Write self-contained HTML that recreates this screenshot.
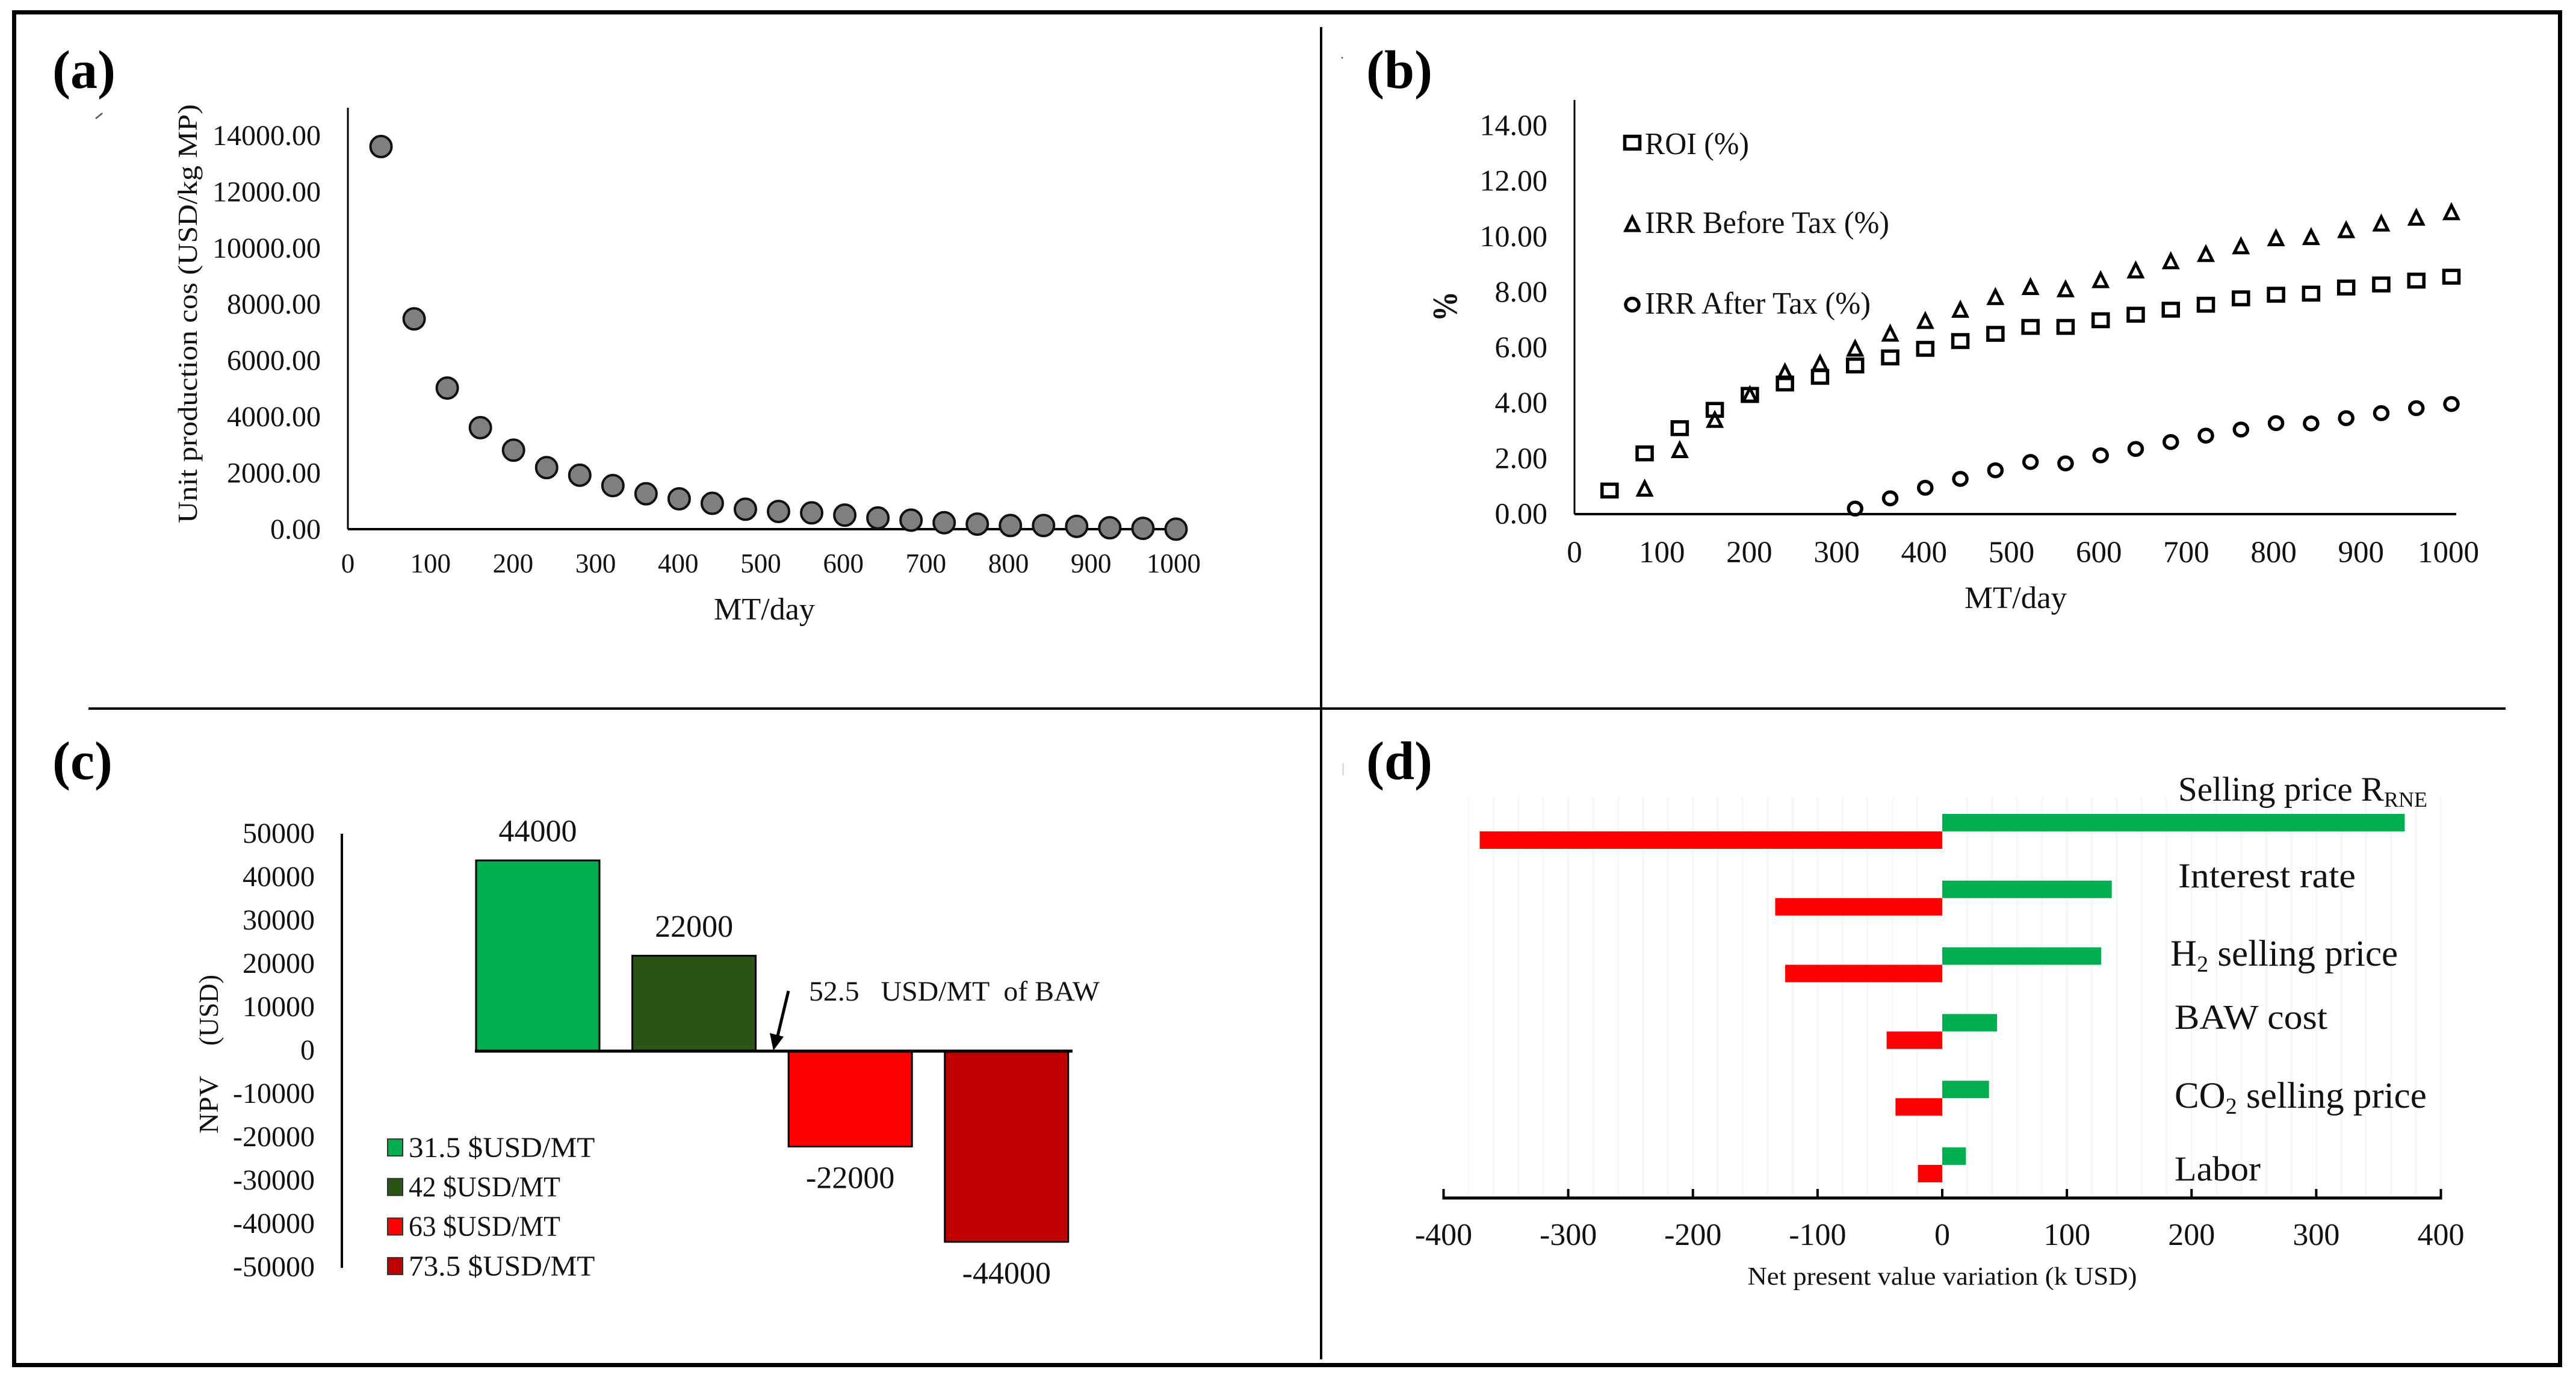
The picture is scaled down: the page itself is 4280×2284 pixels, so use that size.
<!DOCTYPE html>
<html lang="en">
<head>
<meta charset="utf-8">
<title>Techno-economic analysis panels</title>
<style>
html,body{margin:0;padding:0;background:#fff;}
svg{display:block;}
text{font-family:"Liberation Serif","Times New Roman",serif;fill:#111;}
</style>
</head>
<body>
<svg id="figure" xmlns="http://www.w3.org/2000/svg" width="4280" height="2284" viewBox="0 0 4280 2284">
  <rect x="0" y="0" width="4280" height="2284" fill="#ffffff"/>
  <rect x="23.5" y="20.5" width="4230" height="2247" fill="none" stroke="#000" stroke-width="7"/>
  <line x1="2195" y1="45" x2="2195" y2="2258" stroke="#000" stroke-width="4"/>
  <line x1="147" y1="1177" x2="4163" y2="1177" stroke="#000" stroke-width="4"/>

  <text x="87" y="146" font-size="90" font-weight="bold" style="fill:#000">(a)</text>
  <text x="2270" y="146" font-size="90" font-weight="bold" style="fill:#000">(b)</text>
  <text x="87" y="1294" font-size="90" font-weight="bold" style="fill:#000">(c)</text>
  <text x="2270" y="1294" font-size="90" font-weight="bold" style="fill:#000">(d)</text>
  <line x1="159" y1="197" x2="170" y2="188" stroke="#555" stroke-width="2.5"/>

  <g id="panel-a"></g>
  <g id="panel-b"></g>
  <g id="panel-c"></g>
  <g id="panel-d"></g>

  <text transform="translate(327 521) rotate(-90)" text-anchor="middle" font-size="46" textLength="696" lengthAdjust="spacingAndGlyphs">Unit production cos (USD/kg MP)</text>
  <text x="1270" y="1029" text-anchor="middle" font-size="52" textLength="168" lengthAdjust="spacingAndGlyphs">MT/day</text>

  <text transform="translate(2420 509) rotate(-90)" text-anchor="middle" font-size="58" font-weight="bold" textLength="50" lengthAdjust="spacingAndGlyphs">%</text>
  <text x="3349" y="1010" text-anchor="middle" font-size="52" textLength="170" lengthAdjust="spacingAndGlyphs">MT/day</text>

  <text transform="translate(362 1835) rotate(-90)" text-anchor="middle" font-size="46" textLength="96" lengthAdjust="spacingAndGlyphs">NPV</text>
  <text transform="translate(362 1678) rotate(-90)" text-anchor="middle" font-size="46" textLength="118" lengthAdjust="spacingAndGlyphs">(USD)</text>
  <text x="1344" y="1662" font-size="47" textLength="483" lengthAdjust="spacingAndGlyphs" xml:space="preserve">52.5   USD/MT  of BAW</text>
  <g>
    <line x1="1310" y1="1646" x2="1291" y2="1725" stroke="#000" stroke-width="5"/>
    <polygon points="1285,1745 1279,1716 1302,1722" fill="#000"/>
  </g>

  <text x="3227" y="2134" text-anchor="middle" font-size="42" textLength="647" lengthAdjust="spacingAndGlyphs">Net present value variation (k USD)</text>
  <text x="3619" y="1330" font-size="57">Selling price R<tspan font-size="36" dy="10">RNE</tspan></text>
  <text x="3619" y="1474" font-size="58" textLength="295" lengthAdjust="spacingAndGlyphs">Interest rate</text>
  <text x="3606" y="1604" font-size="61">H<tspan font-size="38" dy="10">2</tspan><tspan dy="-10"> selling price</tspan></text>
  <text x="3613" y="1709" font-size="58" textLength="254" lengthAdjust="spacingAndGlyphs">BAW cost</text>
  <text x="3613" y="1840" font-size="61">CO<tspan font-size="38" dy="10">2</tspan><tspan dy="-10"> selling price</tspan></text>
  <text x="3613" y="1961" font-size="58" textLength="143" lengthAdjust="spacingAndGlyphs">Labor</text>
</svg>

<script>
// Shared data
const capacity = [40,80,120,160,200,240,280,320,360,400,440,480,520,560,600,640,680,720,760,800,840,880,920,960,1000];
const xTicks = [0,100,200,300,400,500,600,700,800,900,1000];

// Panel (a)
const unitCost = [13610,7480,5020,3610,2810,2190,1920,1550,1260,1080,920,710,630,580,500,400,320,230,180,130,130,100,50,30,0];
const costTicks = [0,2000,4000,6000,8000,10000,12000,14000];

// Panel (b)
const roiValues = [0.85,2.19,3.10,3.76,4.30,4.71,4.95,5.36,5.65,5.96,6.24,6.50,6.75,6.75,6.99,7.19,7.37,7.55,7.78,7.91,7.95,8.17,8.28,8.42,8.56];
const irrBeforeCapacity = [80,120,160,200,240,280,320,360,400,440,480,520,560,600,640,680,720,760,800,840,880,920,960,1000];
const irrBeforeValues = [0.90,2.29,3.38,4.28,5.10,5.42,5.95,6.49,6.95,7.35,7.81,8.17,8.09,8.42,8.77,9.10,9.36,9.64,9.93,9.97,10.22,10.46,10.67,10.87];
const irrAfterCapacity = [320,360,400,440,480,520,560,600,640,680,720,760,800,840,880,920,960,1000];
const irrAfterValues = [0.20,0.57,0.95,1.27,1.58,1.88,1.83,2.12,2.35,2.60,2.83,3.05,3.28,3.27,3.46,3.64,3.82,3.97];
const percentTicks = [0,2,4,6,8,10,12,14];

// Panel (c)
const npvValues = [44000,22000,-22000,-44000];
const npvLabels = ['31.5 $USD/MT','42 $USD/MT','63 $USD/MT','73.5 $USD/MT'];
const npvColors = ['#00b050','#2a5516','#ff0000','#c00000'];
const npvTicks = [50000,40000,30000,20000,10000,0,-10000,-20000,-30000,-40000,-50000];

// Panel (d)
const driverUpside = [371,136,127.5,44,37.5,19];
const driverDownside = [-371,-134,-126,-44.6,-37.5,-19.5];
const driverTicks = [-400,-300,-200,-100,0,100,200,300,400];
const driverGrid = [-380,-360,-340,-320,-300,-280,-260,-240,-220,-200,-180,-160,-140,-120,-100,-80,-60,-40,-20,20,40,60,80,100,120,140,160,180,200,220,240,260,280,300,320,340,360,380,400];

const NS = 'http://www.w3.org/2000/svg';
function make(parent, tag, props, name) {
  const el = document.createElementNS(NS, tag);
  for (const k in props) el.setAttribute(k, props[k]);
  
  
  parent.appendChild(el);
  return el;
}
function label(parent, str, x, y, size, anchor, name, width) {
  const props = {x: x, y: y + size * 0.33, 'font-size': size, 'text-anchor': anchor};
  if (width) { props.textLength = width; props.lengthAdjust = 'spacingAndGlyphs'; }
  const el = make(parent, 'text', props, name);
  el.textContent = str;
  return el;
}

// ---------- Panel (a) ----------
const xA = v => 578 + v * 1.376;
const yA = v => 879 - v * 0.0467;
const pa = document.getElementById('panel-a');
make(pa, 'line', {x1: xA(0), y1: 179, x2: xA(0), y2: yA(0), stroke: '#000', 'stroke-width': 3}, 'a-y-axis');
make(pa, 'line', {x1: xA(0), y1: yA(0), x2: xA(1000) + 8, y2: yA(0), stroke: '#000', 'stroke-width': 4}, 'a-x-axis');
costTicks.forEach(t => label(pa, t.toFixed(2), 533, yA(t), 48, 'end', 'a-y-tick-label'));
xTicks.forEach(t => label(pa, String(t), xA(t) - t * 0.004, 936, 45, 'middle', 'a-x-tick-label'));
capacity.forEach((c, i) => {
  make(pa, 'circle', {cx: xA(c), cy: yA(unitCost[i]), r: 17.5, fill: '#7f7f7f', stroke: '#111', 'stroke-width': 4}, 'a-point');
});

// ---------- Panel (b) ----------
const xB = v => 2616 + v * 1.457;
const yB = v => 854 - v * 46.07;
const pb = document.getElementById('panel-b');
function squareMark(parent, x, y, name) {
  make(parent, 'rect', {x: x - 12.5, y: y - 10.5, width: 25, height: 21, fill: 'none', stroke: '#000', 'stroke-width': 5.5}, name);
}
function triangleMark(parent, x, y, name) {
  make(parent, 'polygon', {points: [[x, y - 12], [x + 11, y + 10], [x - 11, y + 10]].map(p => p.join(',')).join(' '), fill: 'none', stroke: '#000', 'stroke-width': 5}, name);
}
function circleMark(parent, x, y, name) {
  make(parent, 'ellipse', {cx: x, cy: y, rx: 11, ry: 10.5, fill: 'none', stroke: '#000', 'stroke-width': 5.5}, name);
}
make(pb, 'line', {x1: xB(0), y1: 166, x2: xB(0), y2: yB(0), stroke: '#000', 'stroke-width': 3}, 'b-y-axis');
make(pb, 'line', {x1: xB(0), y1: yB(0), x2: xB(1000) + 8, y2: yB(0), stroke: '#000', 'stroke-width': 4}, 'b-x-axis');
percentTicks.forEach(t => label(pb, t.toFixed(2), 2571, yB(t) - 1, 50, 'end', 'b-y-tick-label'));
xTicks.forEach(t => label(pb, String(t), xB(t) - t * 0.005, 917, 51, 'middle', 'b-x-tick-label'));
irrBeforeCapacity.forEach((c, i) => triangleMark(pb, xB(c), yB(irrBeforeValues[i]), 'irr-before-tax-point'));
capacity.forEach((c, i) => squareMark(pb, xB(c), yB(roiValues[i]), 'roi-point'));
irrAfterCapacity.forEach((c, i) => circleMark(pb, xB(c), yB(irrAfterValues[i]), 'irr-after-tax-point'));
squareMark(pb, 2712, 237, 'legend-roi-marker');
label(pb, 'ROI (%)', 2733, 239, 52, 'start', 'legend-roi', 173);
triangleMark(pb, 2712, 373, 'legend-irr-before-marker');
label(pb, 'IRR Before Tax (%)', 2733, 370, 52, 'start', 'legend-irr-before', 406);
circleMark(pb, 2712, 506, 'legend-irr-after-marker');
label(pb, 'IRR After Tax (%)', 2733, 504, 52, 'start', 'legend-irr-after', 375);
make(pb, 'circle', {cx: 2230, cy: 96, r: 1.5, fill: '#666'}, 'stray-dot');
make(pb, 'rect', {x: 2230, y: 1268, width: 3, height: 20, fill: '#ddd'}, 'stray-mark-d');

// ---------- Panel (c) ----------
const yC = v => 1746 - v * 0.0072;
const barLeft = i => 791 + i * 259.6;
const barWidth = 205;
const pc = document.getElementById('panel-c');
make(pc, 'line', {x1: 568, y1: yC(50000) - 1, x2: 568, y2: yC(-50000), stroke: '#000', 'stroke-width': 4}, 'c-y-axis');
npvTicks.forEach(t => label(pc, String(t), 523, yC(t) - 2, 48, 'end', 'c-y-tick-label'));
npvValues.forEach((v, i) => {
  const top = Math.min(yC(v), yC(0));
  const h = Math.abs(yC(v) - yC(0));
  make(pc, 'rect', {x: barLeft(i), y: top, width: barWidth, height: h, fill: npvColors[i], stroke: '#000', 'stroke-width': 3}, 'npv-bar');
  const ly = v > 0 ? top - 49 : top + h + 52;
  label(pc, String(v), barLeft(i) + barWidth / 2, ly, 52, 'middle', 'npv-value-label');
});
make(pc, 'line', {x1: 789, y1: yC(0), x2: 1782, y2: yC(0), stroke: '#000', 'stroke-width': 5}, 'c-zero-line');
npvLabels.forEach((t, i) => {
  const ly = 1906 + i * 65.7;
  make(pc, 'rect', {x: 644, y: ly - 14, width: 25, height: 28, fill: npvColors[i], stroke: '#333', 'stroke-width': 2}, 'c-legend-swatch');
  label(pc, t, 679, ly, 48, 'start', 'c-legend-label', t.length * 25.2 + (t.length === 12 ? 7 : 0));
});

// ---------- Panel (d) ----------
const xD = v => 3227 + v * 2.0713;
const bandY = i => 1381 + i * 110.8;
const barH = 29;
const pd = document.getElementById('panel-d');
driverGrid.forEach(g => {
  make(pd, 'line', {x1: xD(g), y1: 1325, x2: xD(g), y2: 1985, stroke: '#f6f6f6', 'stroke-width': 3}, 'd-gridline');
});
driverUpside.forEach((v, i) => {
  make(pd, 'rect', {x: xD(0), y: bandY(i) - barH, width: xD(v) - xD(0), height: barH, fill: '#00b050'}, 'upside-bar');
});
driverDownside.forEach((v, i) => {
  make(pd, 'rect', {x: xD(v), y: bandY(i), width: xD(0) - xD(v), height: barH, fill: '#ff0000'}, 'downside-bar');
});
make(pd, 'line', {x1: xD(-400) - 2, y1: 1990, x2: xD(400) + 2, y2: 1990, stroke: '#000', 'stroke-width': 5}, 'd-x-axis');
driverTicks.forEach(t => {
  make(pd, 'line', {x1: xD(t), y1: 1975, x2: xD(t), y2: 1990, stroke: '#000', 'stroke-width': 4}, 'd-x-tick');
  label(pd, String(t), xD(t), 2051, 52, 'middle', 'd-x-tick-label');
});
</script>
</body>
</html>
